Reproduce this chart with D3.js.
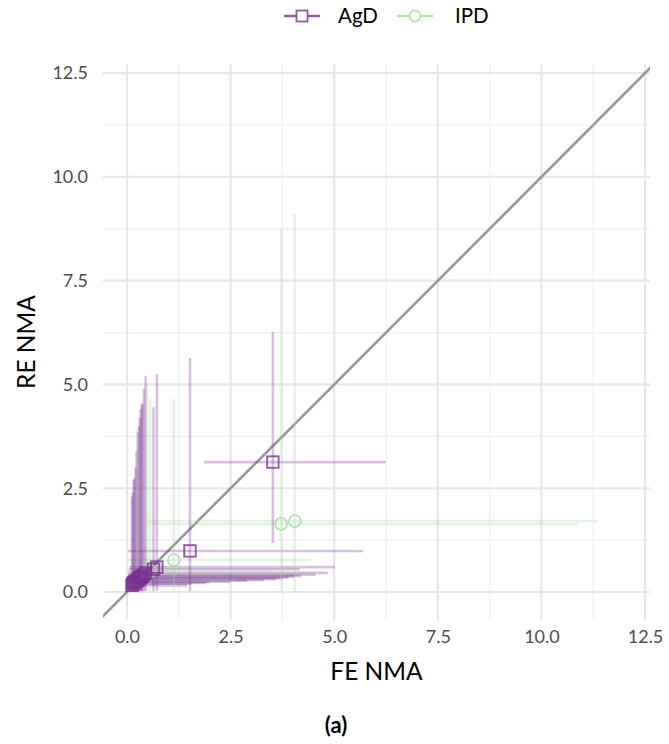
<!DOCTYPE html>
<html>
<head>
<meta charset="utf-8">
<script src="https://cdn.jsdelivr.net/npm/d3@7"></script>
<style>
  html, body { margin: 0; padding: 0; background: #fff; }
  svg text { font-family: "Source Sans Pro", Lato, "Noto Sans", sans-serif; }
</style>
</head>
<body>
<svg id="chart" width="669" height="744"></svg>
<script>
// ---- data ----
const seriesNames = ["AgD", "IPD"];
const seriesColors = ["#7b3294", "#a6dba0"];

const agdFE   = [0.12, 0.14, 0.16, 0.18, 0.21, 0.23, 0.26, 0.29, 0.31, 0.33, 0.36, 0.37, 0.41, 0.45, 0.64, 0.72, 1.52, 3.52];
const agdFElo = [0.00, 0.00, 0.00, 0.01, 0.01, 0.01, 0.02, 0.02, 0.02, 0.02, 0.03, 0.03, 0.03, 0.03, 0.04, 0.05, 0.02, 1.86];
const agdFEhi = [1.45, 1.55, 1.90, 2.00, 2.50, 2.90, 3.30, 3.60, 3.75, 3.90, 4.05, 4.20, 4.55, 4.85, 4.17, 5.02, 5.70, 6.25];
const agdRE   = [0.16, 0.20, 0.22, 0.24, 0.25, 0.27, 0.29, 0.31, 0.33, 0.35, 0.37, 0.39, 0.42, 0.46, 0.55, 0.60, 0.99, 3.13];
const agdRElo = [0.00, 0.00, 0.00, 0.00, 0.01, 0.01, 0.01, 0.01, 0.02, 0.02, 0.02, 0.02, 0.02, 0.03, 0.03, 0.03, 0.02, 1.18];
const agdREhi = [2.30, 2.40, 2.70, 2.75, 3.00, 3.40, 3.85, 4.00, 4.20, 4.40, 4.50, 4.55, 4.90, 5.20, 4.45, 5.25, 5.64, 6.27];

const ipdFE   = [0.25, 0.49, 0.56, 1.13, 3.72, 4.05];
const ipdFElo = [0.01, 0.02, 0.03, 0.02, 0.50, 0.50];
const ipdFEhi = [2.60, 4.73, 3.50, 4.42, 10.90, 11.37];
const ipdRE   = [0.27, 0.48, 0.50, 0.77, 1.64, 1.71];
const ipdRElo = [0.00, 0.02, 0.02, 0.02, 0.02, 0.02];
const ipdREhi = [3.95, 5.00, 4.65, 4.65, 8.75, 9.10];

const tickValues = [0, 2.5, 5, 7.5, 10, 12.5];
const tickLabels = ["0.0", "2.5", "5.0", "7.5", "10.0", "12.5"];
const minorTicks = [1.25, 3.75, 6.25, 8.75, 11.25];
const xTitle = "FE NMA";
const yTitle = "RE NMA";
const caption = "(a)";

// ---- build rows ----
function rows(fe, felo, fehi, re, relo, rehi, g) {
  return fe.map((d, i) => ({ g, x: d, xlo: felo[i], xhi: fehi[i], y: re[i], ylo: relo[i], yhi: rehi[i] }));
}
const agd = rows(agdFE, agdFElo, agdFEhi, agdRE, agdRElo, agdREhi, 0);
const ipd = rows(ipdFE, ipdFElo, ipdFEhi, ipdRE, ipdRElo, ipdREhi, 1);

// ---- layout ----
const panel = { left: 103, right: 650, top: 64, bottom: 620 };
const x = d3.scaleLinear().domain([-0.579, 12.62]).range([panel.left, panel.right]);
const y = d3.scaleLinear().domain([-0.674, 12.72]).range([panel.bottom, panel.top]);

const svg = d3.select("#chart");

svg.append("defs").append("clipPath").attr("id", "clip")
  .append("rect").attr("x", panel.left).attr("y", panel.top)
  .attr("width", panel.right - panel.left).attr("height", panel.bottom - panel.top);

// grid
const grid = svg.append("g");
grid.selectAll(".vminor").data(minorTicks).join("line")
  .attr("x1", d => x(d)).attr("x2", d => x(d))
  .attr("y1", panel.top).attr("y2", panel.bottom)
  .attr("stroke", "#f0f0f0").attr("stroke-width", 1.2);
grid.selectAll(".hminor").data(minorTicks).join("line")
  .attr("y1", d => y(d)).attr("y2", d => y(d))
  .attr("x1", panel.left).attr("x2", panel.right)
  .attr("stroke", "#f0f0f0").attr("stroke-width", 1.2);
grid.selectAll(".vmajor").data(tickValues).join("line")
  .attr("x1", d => x(d)).attr("x2", d => x(d))
  .attr("y1", panel.top).attr("y2", panel.bottom)
  .attr("stroke", "#e8e8e8").attr("stroke-width", 2.2);
grid.selectAll(".hmajor").data(tickValues).join("line")
  .attr("y1", d => y(d)).attr("y2", d => y(d))
  .attr("x1", panel.left).attr("x2", panel.right)
  .attr("stroke", "#e8e8e8").attr("stroke-width", 2.2);

// axes (labels only, ggplot minimal style)
const xAxis = d3.axisBottom(x).tickValues(tickValues).tickFormat((d, i) => tickLabels[i]).tickSize(0).tickPadding(0);
const gx = svg.append("g").attr("transform", `translate(0,${panel.bottom + 6})`).call(xAxis);
gx.select(".domain").remove();
gx.selectAll("text").attr("font-size", 18).attr("fill", "#4d4d4d").attr("dy", "0.95em");

const yAxis = d3.axisLeft(y).tickValues(tickValues).tickFormat((d, i) => tickLabels[i]).tickSize(0).tickPadding(0);
const gy = svg.append("g").attr("transform", `translate(${panel.left - 15},0)`).call(yAxis);
gy.select(".domain").remove();
gy.selectAll("text").attr("font-size", 18).attr("fill", "#4d4d4d");

// titles
svg.append("text").attr("x", (panel.left + panel.right) / 2).attr("y", 680)
  .attr("text-anchor", "middle").attr("font-size", 24.5).attr("fill", "#000").text(xTitle);
svg.append("text").attr("transform", `translate(35,${(panel.top + panel.bottom) / 2}) rotate(-90)`)
  .attr("text-anchor", "middle").attr("font-size", 24.5).attr("fill", "#000").text(yTitle);
svg.append("text").attr("x", 336).attr("y", 733)
  .attr("text-anchor", "middle").attr("font-size", 22).attr("font-weight", "bold").attr("fill", "#000").text(caption);

// plot layer
const plot = svg.append("g").attr("clip-path", "url(#clip)");

// diagonal y = x
plot.append("line")
  .attr("x1", x(-1)).attr("y1", y(-1)).attr("x2", x(13)).attr("y2", y(13))
  .attr("stroke", "#999999").attr("stroke-width", 2.6);

const all = agd.concat(ipd);
// error bars
plot.selectAll(".hbar").data(all).join("line")
  .attr("x1", d => x(d.xlo)).attr("x2", d => x(d.xhi))
  .attr("y1", d => y(d.y)).attr("y2", d => y(d.y))
  .attr("stroke", d => seriesColors[d.g]).attr("stroke-width", 2.6).attr("stroke-opacity", 0.3);
plot.selectAll(".vbar").data(all).join("line")
  .attr("x1", d => x(d.x)).attr("x2", d => x(d.x))
  .attr("y1", d => y(d.ylo)).attr("y2", d => y(d.yhi))
  .attr("stroke", d => seriesColors[d.g]).attr("stroke-width", 2.6).attr("stroke-opacity", 0.3);

// points (IPD first, AgD on top)
plot.selectAll(".ci").data(ipd).join("circle")
  .attr("cx", d => x(d.x)).attr("cy", d => y(d.y)).attr("r", 6)
  .attr("fill", "none").attr("stroke", seriesColors[1]).attr("stroke-width", 1.8).attr("stroke-opacity", 0.8);
const sq = 11.5;
plot.selectAll(".sq").data(agd).join("rect")
  .attr("x", d => x(d.x) - sq / 2).attr("y", d => y(d.y) - sq / 2)
  .attr("width", sq).attr("height", sq)
  .attr("fill", "none").attr("stroke", seriesColors[0]).attr("stroke-width", 1.9).attr("stroke-opacity", 0.8);

// legend
const legend = svg.append("g");
const keys = [{ x0: 284, tx: 338 }, { x0: 397, tx: 455 }];
seriesNames.forEach((name, i) => {
  const k = keys[i], cy = 16, cx = k.x0 + 18;
  legend.append("line").attr("x1", k.x0).attr("x2", k.x0 + 36).attr("y1", cy).attr("y2", cy)
    .attr("stroke", seriesColors[i]).attr("stroke-width", 2.6).attr("stroke-opacity", 0.8);
  if (i === 0) {
    legend.append("rect").attr("x", cx - 5.5).attr("y", cy - 5.5).attr("width", 11).attr("height", 11)
      .attr("fill", "#fff").attr("stroke", seriesColors[i]).attr("stroke-width", 1.8).attr("stroke-opacity", 0.8);
  } else {
    legend.append("circle").attr("cx", cx).attr("cy", cy).attr("r", 5.5)
      .attr("fill", "#fff").attr("stroke", seriesColors[i]).attr("stroke-width", 1.8).attr("stroke-opacity", 0.8);
  }
  legend.append("text").attr("x", k.tx).attr("y", cy).attr("dy", "0.35em")
    .attr("font-size", 20.5).attr("fill", "#000").text(name);
});
</script>
</body>
</html>
